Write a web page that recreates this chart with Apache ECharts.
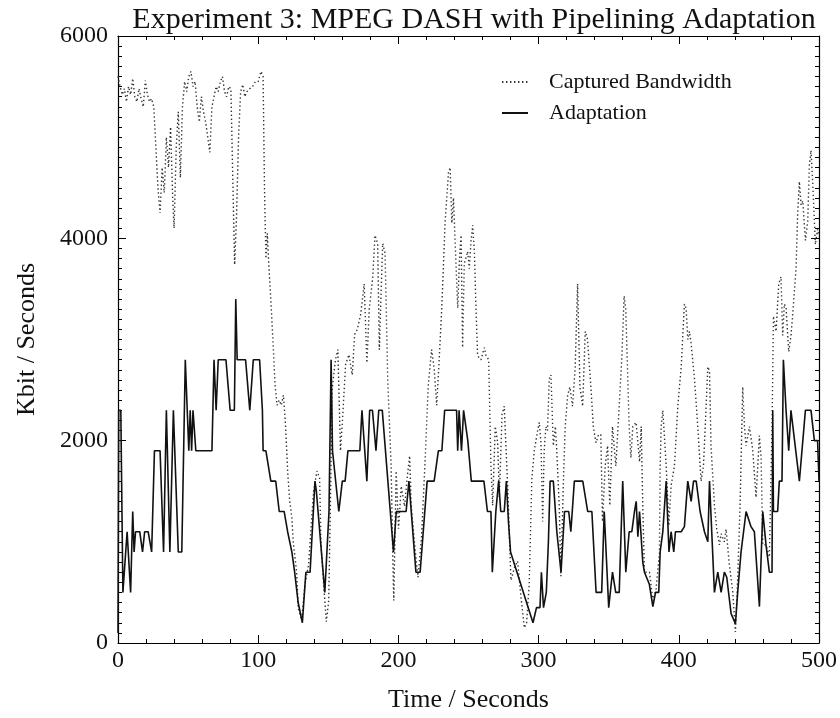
<!DOCTYPE html>
<html>
<head>
<meta charset="utf-8">
<script src="https://cdn.jsdelivr.net/npm/echarts@6/dist/echarts.min.js"></script>
<style>
  html, body { margin: 0; padding: 0; background: #fff; }
  #chart { width: 840px; height: 718px; }
</style>
</head>
<body>
<div id="chart"></div>
<script>
// captured bandwidth (time in s, value in kbit/s)
const bwTime = [0, 1.5, 3, 4.5, 6, 7.5, 9, 10.5, 12, 13.5, 15, 16.5, 18, 19.5, 21, 22.5, 24, 25.5, 27, 28.5,
  30, 31.5, 33, 34.5, 36, 37.5, 39, 40, 41.5, 43, 44.5, 46, 47.5, 49, 50.5, 52, 53.5, 55, 56.5, 58,
  59.5, 61, 62.5, 64, 65.5, 67, 68.5, 70, 71.5, 73, 74.5, 76, 77.5, 79, 80.5, 82, 83.2, 84.5, 86, 87.5,
  89, 90.5, 92, 94, 96, 98, 100, 102, 103.5, 104.5, 105.5, 106.5, 107.5, 109, 110.5, 112, 113.5, 115, 116.5, 118,
  119.5, 121, 122.5, 124, 125, 127.4, 128.6, 131, 133.4, 135.9, 137.5, 139.5, 141.9, 143.8, 144.8, 146.7, 148.6, 150.3, 151.5, 152.7,
  155.1, 156.8, 158.7, 159.9, 162.3, 164.7, 167.1, 168.8, 170.7, 173.1, 175.6, 177.5, 179.2, 181.6, 183.3, 185.2, 186.4, 188.8, 190.5, 192.4,
  194.8, 196, 196.7, 198.4, 200.1, 202, 204.4, 206.4, 208, 209.2, 211.6, 214, 216.5, 218.9, 221.3, 223.7, 225.6, 227.3, 228.5, 230.9,
  233.3, 235.7, 236.9, 238.1, 239.3, 240.5, 242.3, 243.5, 244.7, 245.8, 247, 249.4, 250.6, 251.8, 253, 254.2, 255.3, 256.5, 258.9, 261.3,
  262.5, 264.4, 266, 267.2, 269.1, 270.8, 272, 273.9, 275.5, 276.7, 277.9, 280.3, 282.7, 285, 287.4, 289.8, 291.4, 293.3, 295.2, 296.9,
  299.3, 300.5, 301.7, 302.9, 304, 305.2, 306.4, 307.6, 308.8, 310.5, 311.9, 312.8, 314.7, 315.9, 317.6, 319, 320.7, 322.3, 324.2, 326.1,
  327.8, 329.5, 331.4, 333.3, 334.9, 337.3, 339, 340.9, 342.8, 344.4, 345.6, 347.5, 349.2, 350.8, 352.7, 355.1, 357.5, 359.4, 361, 362.2,
  364.6, 365.8, 367.2, 369.6, 372, 373.2, 374.3, 375.5, 379.1, 381.5, 383.8, 386.2, 386.7, 387.4, 388.6, 391, 392.9, 394.5, 396.9, 399.3,
  401.7, 404, 405.2, 406.4, 407.6, 408.8, 411.2, 413.5, 415.9, 417.6, 419.5, 420.7, 421.9, 423, 425.4, 427.1, 429, 430.2, 432.5, 433.7,
  436.1, 438.5, 440.4, 442, 443.7, 445.6, 446.8, 448, 450.4, 452.7, 455.1, 457.5, 458.7, 459.9, 462.2, 464.6, 466.5, 467.5, 469.4, 471.3,
  472.9, 474.1, 475.3, 476.5, 478.4, 480, 481.2, 482.4, 483.6, 484.8, 486, 487.2, 488.4, 490.3, 492, 493.1, 494.3, 495.5, 497.4, 499, 500];
const bwValue = [5600, 5500, 5420, 5480, 5350, 5500, 5420, 5580, 5400, 5350, 5480, 5380, 5300, 5560, 5420, 5350, 5380, 5300, 4900, 4500,
  4250, 4700, 4450, 5000, 4700, 5100, 4400, 4100, 4900, 5250, 4600, 5300, 5550, 5450, 5600, 5650, 5500, 5550, 5300, 5150,
  5400, 5250, 5150, 5000, 4850, 5300, 5400, 5500, 5450, 5550, 5600, 5450, 5400, 5500, 5480, 4500, 3740, 4200, 5000, 5450,
  5520, 5400, 5450, 5480, 5500, 5550, 5550, 5650, 5600, 4500, 3800, 4050, 3750, 3400, 3000, 2550, 2350, 2400, 2350, 2450,
  2150, 1700, 1400, 1240, 1000, 700, 340, 230, 580, 770, 1090, 1500, 1700, 1630, 970, 580, 210, 420, 1360, 2500,
  2800, 2900, 1900, 2150, 2750, 2850, 2650, 3050, 3100, 3250, 3550, 2770, 3300, 3600, 4030, 3950, 2900, 3950, 3850, 2600,
  1750, 850, 420, 1700, 1130, 1550, 1350, 1650, 1850, 1350, 970, 650, 1050, 1750, 2550, 2900, 2700, 2350, 2650, 3300,
  4150, 4650, 4700, 4150, 4400, 3950, 3310, 3780, 4030, 2920, 3750, 3870, 3700, 3975, 4130, 3860, 3310, 2840, 2800, 2920,
  2840, 2800, 1750, 1360, 2140, 1980, 1440, 2260, 2340, 1950, 1560, 620, 740, 810, 460, 150, 190, 580, 1630, 1900,
  2100, 2180, 1980, 1200, 1900, 2140, 2100, 2610, 2650, 1950, 2140, 1950, 1360, 660, 1550, 2140, 2450, 2530, 2340, 2730,
  3550, 2530, 2340, 3080, 3000, 2530, 2140, 1980, 2060, 2060, 1200, 1750, 1950, 1360, 2140, 1750, 2340, 2840, 3430, 3300,
  2140, 1830, 2140, 2180, 1790, 2140, 1360, 700, 700, 420, 535, 890, 1750, 2140, 2300, 1750, 1160, 1555, 1750, 2340,
  2730, 3350, 3310, 3000, 3080, 2960, 2610, 2140, 1600, 1750, 2340, 2730, 2690, 1950, 1360, 1125, 970, 1080, 1000, 1125,
  770, 500, 110, 650, 1360, 2530, 2140, 1950, 2140, 1910, 1440, 2050, 1830, 970, 970, 850, 2140, 3230, 3080, 3550,
  3620, 3040, 3350, 3310, 2880, 3040, 3230, 3470, 3700, 4250, 4560, 4330, 4370, 3980, 4170, 4720, 4870, 4560, 3940, 4090, 4020];

// adaptation (selected bitrate)
const adTime = [0, 0.5, 2, 3.5, 6.5, 9, 10.5, 11.5, 12.5, 15.5, 17.5, 19, 21.5, 24, 26, 30, 32.5, 34.5, 37, 39.5,
  43, 45.5, 48, 50.5, 51.5, 52.5, 53.5, 55.5, 67, 68.5, 70, 71.5, 77, 80, 83, 84, 85, 91, 94, 96.5,
  101, 103, 103.5, 105.5, 109, 112.5, 115, 118.5, 121, 124, 126, 128.5, 131.5, 134, 137, 140.5, 141.5, 147.5, 150.5, 151.5,
  152, 153, 157.5, 160, 162, 164, 172.5, 174, 177.5, 179.5, 181.5, 184, 186, 188.5, 196.5, 198.5, 205.5, 207.5, 212.5, 215.5,
  220.5, 225.5, 228.5, 231, 233, 241.5, 242.3, 243.3, 245, 246.5, 249.5, 252, 261, 263.5, 266, 267, 269.5, 271.5, 273, 275.5,
  277, 278.5, 280, 296, 298.5, 301, 302, 303.5, 305.5, 307, 308.2, 310.5, 313, 316, 318.5, 321.5, 323, 325.5, 331.5, 335,
  338, 341, 345, 346.8, 350, 352.7, 355, 357.5, 360, 362.2, 364.6, 366.5, 368.4, 369.6, 370.8, 372, 374.3, 375.5, 379, 381.5,
  383.4, 385.7, 386.7, 388.6, 391, 393, 394.5, 396.4, 397.6, 401.7, 404, 406.4, 408.8, 410.5, 412.4, 415.2, 418.3, 420.7, 421.9, 425.4,
  427.8, 430.2, 432.5, 434.2, 437.3, 440.4, 442, 444.4, 448, 451.5, 453.9, 457.5, 459.9, 462.2, 464.6, 466.5, 467, 467.5, 470.5, 471.7,
  473.6, 474.6, 476.5, 478.4, 480, 486, 490.3, 494.3, 496.7, 499, 500];
const adValue = [100, 2300, 2300, 500, 1100, 500, 1300, 900, 1100, 1100, 900, 1100, 1100, 900, 1900, 1900, 900, 2300, 900, 2300,
  900, 900, 2800, 1900, 2300, 1900, 2300, 1900, 1900, 2800, 2300, 2800, 2800, 2300, 2300, 3400, 2800, 2800, 2300, 2800,
  2800, 2300, 1900, 1900, 1600, 1600, 1300, 1300, 1100, 900, 700, 400, 200, 700, 700, 1600, 1500, 500, 1300, 1300,
  2800, 1900, 1300, 1600, 1600, 1900, 1900, 2300, 1600, 2300, 2300, 1900, 2300, 2300, 900, 1300, 1300, 1600, 700, 700,
  1600, 1600, 1900, 1900, 2300, 2300, 1900, 2300, 1900, 2300, 2000, 1600, 1600, 1300, 1300, 700, 1300, 1600, 1300, 1300,
  1600, 1200, 900, 200, 350, 350, 700, 350, 500, 1000, 1600, 1600, 1100, 700, 1300, 1300, 1100, 1600, 1600, 1300,
  1300, 500, 500, 1300, 350, 700, 500, 500, 1600, 700, 1100, 1100, 1300, 1400, 1050, 1300, 800, 700, 580, 360,
  500, 500, 900, 1100, 1600, 900, 1100, 900, 1100, 1100, 1150, 1600, 1400, 1600, 1600, 1300, 1100, 1000, 1600, 500,
  700, 500, 700, 650, 290, 190, 500, 900, 1300, 1150, 1100, 360, 1300, 970, 700, 700, 2300, 1300, 1300, 1600,
  1600, 2800, 2300, 1900, 2300, 1600, 2300, 2300, 2000, 2000, 1600];

const serif = '"Liberation Serif", "DejaVu Serif", serif';

const chart = echarts.init(document.getElementById('chart'));

const frameX = {
  type: 'value', min: 0, max: 500, interval: 100,
  axisLine: { show: true, onZero: false, lineStyle: { color: '#000', width: 1.2 } },
  axisTick: { show: true, inside: true, length: 8, lineStyle: { color: '#000' } },
  minorTick: { show: true, splitNumber: 5, length: 4, lineStyle: { color: '#000' } },
  splitLine: { show: false }
};
const frameY = {
  type: 'value', min: 0, max: 6000, interval: 2000,
  axisLine: { show: true, onZero: false, lineStyle: { color: '#000', width: 1.2 } },
  axisTick: { show: true, inside: true, length: 8, lineStyle: { color: '#000' } },
  minorTick: { show: true, splitNumber: 20, length: 4, lineStyle: { color: '#000' } },
  splitLine: { show: false }
};

const option = {
  animation: false,
  backgroundColor: '#fff',
  title: {
    text: 'Experiment 3: MPEG DASH with Pipelining Adaptation',
    left: 469, top: 0, textAlign: 'center',
    textStyle: { fontFamily: serif, fontSize: 30, fontWeight: 'normal', color: '#111' }
  },
  legend: {
    orient: 'vertical', left: 496, top: 66, itemGap: 9,
    itemWidth: 26, itemHeight: 14,
    itemStyle: { opacity: 0 },
    textStyle: { fontFamily: serif, fontSize: 22, color: '#111', padding: [0, 0, 0, 16] },
    data: ['Captured Bandwidth', 'Adaptation']
  },
  grid: { left: 118, right: 20, top: 36, bottom: 75 },
  xAxis: [
    Object.assign({}, frameX, {
      position: 'bottom',
      name: 'Time / Seconds', nameLocation: 'middle', nameGap: 44,
      nameTextStyle: { fontFamily: serif, fontSize: 26, color: '#111' },
      axisLabel: { fontFamily: serif, fontSize: 24, color: '#111', margin: 6 }
    }),
    Object.assign({}, frameX, { position: 'top', axisLabel: { show: false } })
  ],
  yAxis: [
    Object.assign({}, frameY, {
      position: 'left',
      name: 'Kbit / Seconds', nameLocation: 'middle', nameGap: 78,
      nameTextStyle: { fontFamily: serif, fontSize: 26, color: '#111' },
      axisLabel: { fontFamily: serif, fontSize: 24, color: '#111', margin: 10, formatter: v => String(v) }
    }),
    Object.assign({}, frameY, { position: 'right', axisLabel: { show: false } })
  ],
  series: [
    {
      name: 'Captured Bandwidth', type: 'line', showSymbol: false, symbol: 'none',
      data: bwTime.map((t, i) => [t, bwValue[i]]),
      lineStyle: { color: '#333', width: 1.4, type: [1.4, 2.6] },
      itemStyle: { color: '#333' }
    },
    {
      name: 'Adaptation', type: 'line', showSymbol: false, symbol: 'none',
      data: adTime.map((t, i) => [t, adValue[i]]),
      lineStyle: { color: '#111', width: 1.6 },
      itemStyle: { color: '#111' },
      z: 3
    }
  ]
};

chart.setOption(option);
</script>
</body>
</html>
